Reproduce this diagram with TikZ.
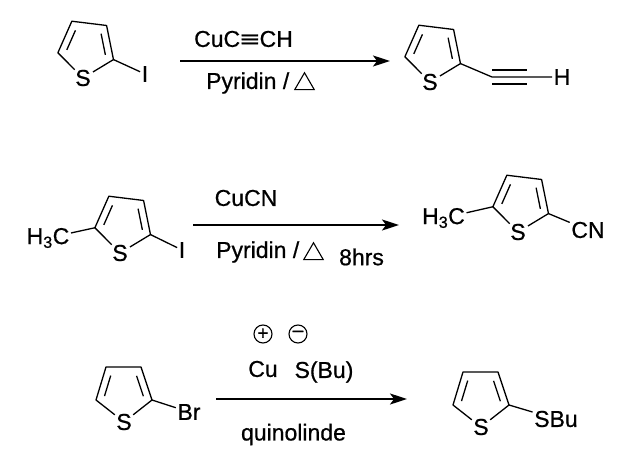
\documentclass[tikz,border=0pt]{standalone}
\usepackage{fontspec}
\setmainfont{Liberation Sans}[RawFeature={embolden=0.7}]
\usetikzlibrary{calc,arrows.meta,shapes.geometric}
\tikzset{
	label text/.style={inner sep=0pt, font=\fontsize{23}{26}\selectfont},
	atom/.style={label text, inner xsep=1.5pt, inner ysep=2pt},
	ring S/.style={label text, circle, minimum size=23pt},
	bond/.style={line width=1.3pt, line join=round},
	rxn arrow/.style={line width=1.8pt, -{Stealth[length=17pt, width=11pt, inset=4pt]}},
	heat mark/.style={draw, line width=1.1pt, regular polygon, regular polygon sides=3, inner sep=0pt, minimum size=22.5pt},
	charge/.style={draw, circle, line width=1.1pt, inner sep=0pt, minimum size=18pt, font=\fontsize{19}{19}\selectfont}
}
\def\thiophene(#1)[#2]#3{
	\begin{scope}[shift={(#1)}, rotate=#2]
		\node[ring S] (#3S) at (0, 0) {S};
		\coordinate (#3c5) at (-28, -22);
		\coordinate (#3c4) at (-18, -55);
		\coordinate (#3c3) at (17, -55);
		\coordinate (#3c2) at (28, -22);
	\end{scope}
	\draw[bond] (#3S) -- (#3c5) -- (#3c4) -- (#3c3) -- (#3c2) -- (#3S);
	\draw[bond] ($(#3c5)!.18!(#3c4)!7pt!-90:(#3c4)$) -- ($(#3c5)!.8!(#3c4)!7pt!-90:(#3c4)$);
	\draw[bond] ($(#3c2)!.18!(#3c3)!7pt!90:(#3c3)$) -- ($(#3c2)!.8!(#3c3)!7pt!90:(#3c3)$);
}

\begin{document}
\begin{tikzpicture}[x=1pt, y=-1pt]
		\useasboundingbox (0, 0) rectangle (621, 460);
		
		%%%%% FIRST REACTION %%%%%
		\thiophene(83, 78)[-7]{a}
		\node[atom] (aI) at (145, 74) {I};
		\draw[bond] (ac2) -- (aI);
		
		\coordinate (arrowAs) at (180, 61);
		\coordinate (arrowAe) at (390, 61);
		\draw[rxn arrow] (arrowAs) -- (arrowAe);
		\node[label text] (reagentA) at (243.5, 39) {CuC\scalebox{1.45}[1]{≡}CH};
		\node[label text, anchor=west] (solventA) at (206, 83) {Pyridin /};
		\node[heat mark] (heatA) at (304.5, 84) {};
		
		\thiophene(430, 82)[-7]{b}
		\coordinate (tripleS) at (492, 77);
		\coordinate (tripleE) at (527, 77);
		\node[atom] (bH) at (562, 77) {H};
		\draw[bond] (bc2) -- (tripleS) -- (bH);
		\draw[bond] ([yshift=7pt]tripleS) -- ([yshift=7pt]tripleE);
		\draw[bond] ([yshift=-7pt]tripleS) -- ([yshift=-7pt]tripleE);
		
		%%%%% SECOND REACTION %%%%%
		\thiophene(120, 253)[-7]{c}
		\node[atom] (cMe) at (48, 238) {H\textsubscript{3}C};
		\node[atom] (cI) at (182, 250) {I};
		\draw[bond] (cc5) -- (cMe);
		\draw[bond] (cc2) -- (cI);
		
		\coordinate (arrowBs) at (193, 225);
		\coordinate (arrowBe) at (399, 225);
		\draw[rxn arrow] (arrowBs) -- (arrowBe);
		\node[label text] (reagentB) at (246, 198) {CuCN};
		\node[label text, anchor=west] (solventB) at (216, 252) {Pyridin /};
		\node[heat mark] (heatB) at (313.5, 254) {};
		\node[label text] (timeB) at (361.5, 257) {8hrs};
		
		\thiophene(518, 232)[-7]{d}
		\node[atom] (dMe) at (443.5, 218) {H\textsubscript{3}C};
		\node[atom] (dCN) at (588, 230) {CN};
		\draw[bond] (dc5) -- (dMe);
		\draw[bond] (dc2) -- (dCN);
		
		%%%%% THIRD REACTION %%%%%
		\thiophene(124, 422)[0]{e}
		\node[atom] (eBr) at (189, 412) {Br};
		\draw[bond] (ec2) -- (eBr);
		
		\node[charge] (plus) at (263, 334) {+};
		\node[charge] (minus) at (298, 334) {\raisebox{1pt}{–}};
		\node[label text] (reagentC) at (263, 369) {Cu};
		\node[label text] (thiolate) at (324, 372) {S(Bu)};
		\coordinate (arrowCs) at (216, 399);
		\coordinate (arrowCe) at (407, 399);
		\draw[rxn arrow] (arrowCs) -- (arrowCe);
		\node[label text] (solventC) at (293.5, 434.5) {quinolinde};
		
		\thiophene(481, 427)[0]{f}
		\node[atom] (fSBu) at (556, 419) {SBu};
		\draw[bond] (fc2) -- (fSBu);
		%%%%% END %%%%%
	\end{tikzpicture}
\end{document}
